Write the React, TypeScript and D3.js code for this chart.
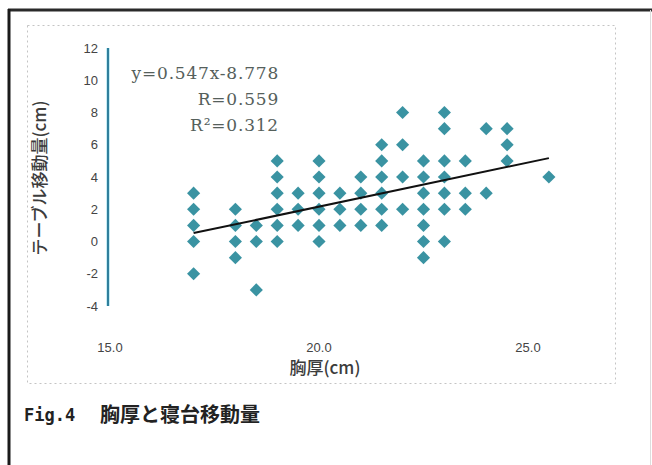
import React, { useRef, useEffect } from "react";
import * as d3 from "d3";

// chest thickness (cm) columns and table movement (cm) read at each column
const chestThickness = [17.0, 18.0, 18.5, 19.0, 19.5, 20.0, 20.5, 21.0, 21.5, 22.0, 22.5, 23.0, 23.5, 24.0, 24.5, 25.5];
const tableShift = [
  [3, 2, 1, 0, -2],
  [2, 1, 0, -1],
  [1, 0, -3],
  [5, 4, 3, 2, 1, 0],
  [3, 2, 1],
  [5, 4, 3, 2, 1, 0],
  [3, 2, 1],
  [4, 3, 2, 1],
  [6, 5, 4, 3, 2, 1],
  [8, 6, 4, 2],
  [5, 4, 3, 2, 1, 0, -1],
  [8, 7, 5, 4, 3, 2, 0],
  [5, 3, 2],
  [7, 3],
  [7, 6, 5],
  [4]
];

const yTicks = [12, 10, 8, 6, 4, 2, 0, -2, -4];
const xTicks = [15, 20, 25];

const slope = 0.547;
const intercept = -8.778;
const fitRange = [17.0, 25.5];
const statLines = ["y=0.547x-8.778", "R=0.559", "R\u00b2=0.312"];

export default function App() {
  const ref = useRef<SVGSVGElement>(null);

  useEffect(() => {
    const width = 652;
    const height = 465;
    const svg = d3.select(ref.current);
    svg.selectAll("*").remove();
    svg.attr("width", width).attr("height", height);

    svg.append("rect").attr("width", width).attr("height", height).attr("fill", "#fff");

    const x = d3.scaleLinear().domain([15, 25]).range([110, 528]);
    const y = d3.scaleLinear().domain([-4, 12]).range([306, 48]);

    // outer frame
    svg.append("line").attr("x1", 8).attr("x2", 652).attr("y1", 10).attr("y2", 10)
      .attr("stroke", "#2a2a2a").attr("stroke-width", 3);
    svg.append("line").attr("x1", 9).attr("x2", 9).attr("y1", 9).attr("y2", 465)
      .attr("stroke", "#1a1a1a").attr("stroke-width", 3);
    svg.append("line").attr("x1", 650.5).attr("x2", 650.5).attr("y1", 10).attr("y2", 465)
      .attr("stroke", "#ddd").attr("stroke-width", 1);

    // inner (chart area) frame
    svg.append("rect").attr("x", 27.5).attr("y", 25.5).attr("width", 588).attr("height", 358)
      .attr("fill", "none").attr("stroke", "#c4c4c4").attr("stroke-width", 1)
      .attr("stroke-dasharray", "2,3");

    // y axis line
    svg.append("line").attr("x1", x(15) - 2).attr("x2", x(15) - 2).attr("y1", y(12)).attr("y2", y(-4))
      .attr("stroke", "#c6ecf4").attr("stroke-width", 4);
    svg.append("line").attr("x1", x(15) - 2).attr("x2", x(15) - 2).attr("y1", y(12)).attr("y2", y(-4))
      .attr("stroke", "#2f7f9c").attr("stroke-width", 2);

    // y tick labels
    svg.append("g").selectAll("text").data(yTicks).enter().append("text")
      .attr("x", 98).attr("y", d => y(d)).attr("dy", "0.35em")
      .attr("text-anchor", "end")
      .attr("font-family", "Liberation Sans, Arial, sans-serif")
      .attr("font-size", 13).attr("fill", "#444")
      .text(d => d);

    // x tick labels
    svg.append("g").selectAll("text").data(xTicks).enter().append("text")
      .attr("x", d => x(d)).attr("y", 347).attr("dy", "0.35em")
      .attr("text-anchor", "middle")
      .attr("font-family", "Liberation Sans, Arial, sans-serif")
      .attr("font-size", 13).attr("fill", "#444")
      .text(d => d3.format(".1f")(d));

    // axis titles
    svg.append("text")
      .attr("transform", "translate(40,178) rotate(-90)")
      .attr("text-anchor", "middle").attr("dy", "0.35em")
      .attr("font-family", "Noto Sans CJK JP, sans-serif")
      .attr("font-weight", 500)
      .attr("font-size", 17).attr("fill", "#3c3c3c")
      .text("テーブル移動量(cm)");
    svg.append("text")
      .attr("x", 325).attr("y", 368).attr("dy", "0.35em")
      .attr("text-anchor", "middle")
      .attr("font-family", "Noto Sans CJK JP, sans-serif")
      .attr("font-weight", 500)
      .attr("font-size", 17).attr("fill", "#3c3c3c")
      .text("胸厚(cm)");

    // scatter points
    const points = chestThickness.flatMap((c, i) => tableShift[i].map(v => ({ c, v })));
    const diamond = d3.symbol().type(d3.symbolDiamond2).size(110);
    svg.append("g").selectAll("path").data(points).enter().append("path")
      .attr("d", diamond)
      .attr("transform", d => `translate(${x(d.c)},${y(d.v)})`)
      .attr("fill", "#2f8d9d").attr("opacity", 0.95);

    // regression line
    svg.append("line")
      .attr("x1", x(fitRange[0])).attr("y1", y(slope * fitRange[0] + intercept))
      .attr("x2", x(fitRange[1])).attr("y2", y(slope * fitRange[1] + intercept))
      .attr("stroke", "#111").attr("stroke-width", 2);

    // equation text
    svg.append("g").selectAll("text").data(statLines).enter().append("text")
      .attr("x", 279).attr("y", (d, i) => 73 + i * 26).attr("dy", "0.35em")
      .attr("text-anchor", "end")
      .attr("font-family", "DejaVu Serif, serif")
      .attr("font-size", 17).attr("letter-spacing", 0.8).attr("fill", "#55605b")
      .text(d => d);

    // caption
    svg.append("text")
      .attr("x", 24).attr("y", 415).attr("dy", "0.35em")
      .attr("font-family", "DejaVu Sans Mono, monospace")
      .attr("font-weight", "bold").attr("font-size", 17).attr("fill", "#222")
      .text("Fig.4");
    svg.append("text")
      .attr("x", 100).attr("y", 415).attr("dy", "0.35em")
      .attr("font-family", "Noto Sans CJK JP, sans-serif")
      .attr("font-weight", "bold").attr("font-size", 20).attr("fill", "#222")
      .text("胸厚と寝台移動量");
  }, []);

  return (
    <svg ref={ref} style={{ position: "absolute", left: 0, top: 0 }}></svg>
  );
}
